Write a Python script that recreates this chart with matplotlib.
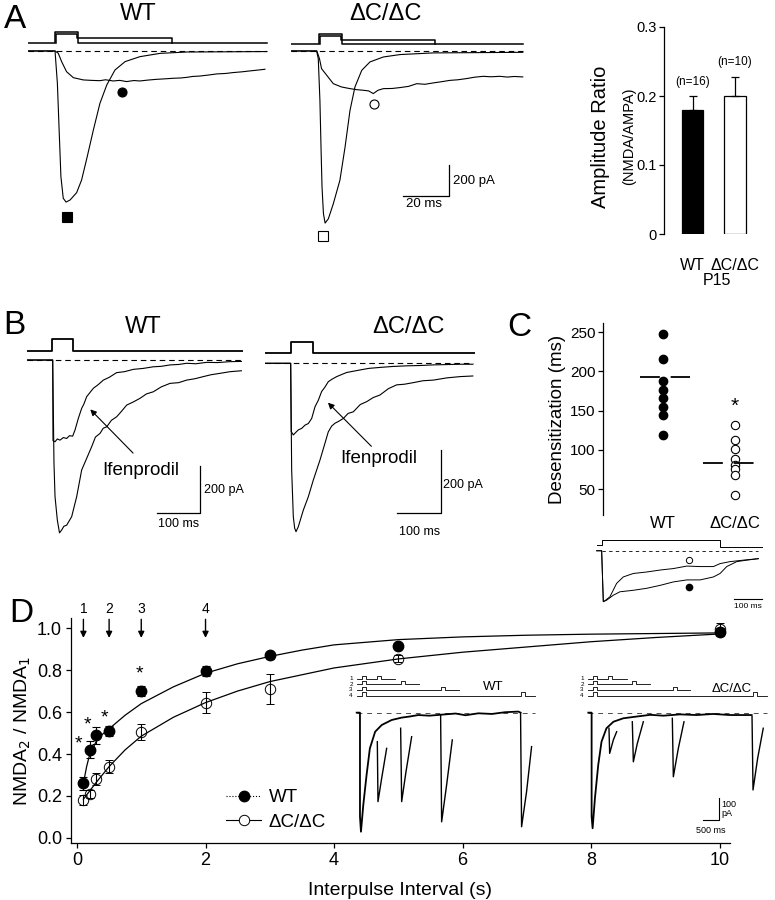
import matplotlib
matplotlib.use('Agg')
import matplotlib.pyplot as plt
from matplotlib.lines import Line2D

plt.rcParams['font.family'] = ['Liberation Sans', 'DejaVu Sans']
plt.rcParams['axes.linewidth'] = 0.9

# ---------------- data ----------------
# A: AMPA / NMDA currents (ms, pA)
a_wt_ampa_t = [0, 11.5, 12.5, 13.3, 14.0, 15.0, 16.2, 17.9, 20.7, 22.8, 25.2, 27.8, 30.6, 33.5, 37.0, 41.3, 47.6, 56.2, 67.5, 101.5]
a_wt_ampa_i = [0, 0, -216, -549, -838, -982, -1007, -993, -944, -860, -704, -527, -349, -227, -127, -71, -38, -16, -7, -4]
a_wt_nmda_t = [0, 11.5, 12.9, 14.3, 16.4, 19.3, 23.5, 27, 30.6, 33, 36.3, 39, 42.0, 45, 47.6, 51, 54.7, 58, 61.8, 65, 67.5, 70,
               73.2, 77, 80.3, 84, 87.3, 91, 94.4, 98, 100.8]
a_wt_nmda_i = [0, 0, -16, -71, -138, -178, -193, -196, -198, -192, -200, -196, -204, -197, -200, -194, -189, -186, -182, -180,
               -176, -170, -167, -160, -153, -150, -144, -139, -133, -127, -122]
a_ko_ampa_t = [0, 10.9, 11.6, 12.3, 12.8, 13.2, 13.8, 14.5, 15.9, 18.0, 20.8, 23.0, 25.1, 27.2, 30.1, 33.6, 39.3, 46.4, 60.5, 98.6]
a_ko_ampa_i = [0, 0, -51, -329, -662, -907, -1084, -1147, -1118, -1018, -862, -640, -396, -240, -129, -73, -40, -24, -13, -9]
a_ko_nmda_t = [0, 11.0, 12.1, 13.0, 15.2, 18.0, 21.5, 25.1, 28, 30.8, 33, 35.0, 37, 39.3, 43, 46.4, 50, 53.5, 57, 60.5, 64,
               67.6, 71, 74.7, 78, 81.8, 85, 88.9, 92, 95, 98.6]
a_ko_nmda_i = [0, 0, -51, -118, -162, -218, -240, -251, -258, -262, -266, -284, -262, -251, -250, -244, -236, -218, -222, -213,
               -205, -196, -192, -184, -175, -169, -172, -169, -174, -170, -173]
a_wt_stim1_t = [0, 11.5, 11.5, 21.4, 21.4, 101.5]
a_wt_stim1_i = [51, 51, 129, 129, 51, 51]
a_wt_stim2_t = [11.9, 11.9, 21.0, 21.0, 61.4, 61.4]
a_wt_stim2_i = [51, 111, 111, 84, 84, 51]
a_ko_stim1_t = [0, 11.9, 11.9, 21.6, 21.6, 98.6]
a_ko_stim1_i = [49, 49, 116, 116, 49, 49]
a_ko_stim2_t = [12.3, 12.3, 21.2, 21.2, 61.3, 61.3]
a_ko_stim2_i = [49, 98, 98, 71, 71, 49]
a_wt_marks = {'ampa': (16.4, -1109), 'nmda': (40.0, -271)}
a_ko_marks = {'ampa': (13.8, -1231), 'nmda': (35.5, -353)}

# A: amplitude ratio bars
bar_groups = ['WT', '\u0394C/\u0394C']
amp_ratio = [0.18, 0.20]
amp_err = [0.02, 0.028]
amp_n = ['(n=16)', '(n=10)']

# B: ifenprodil traces (ms, pA)
b_wt_stim_t = [0, 58.5, 58.5, 107, 107, 498]
b_wt_stim_i = [40, 40, 88.5, 88.5, 40, 40]
b_wt_ifen_t = [0, 59.3, 60, 64.7, 70, 76.2, 84, 91.6, 98, 105.4, 110.8, 118.5, 126.2, 131, 137.8, 145, 153.2, 164,
               176.3, 190, 207, 225, 245.5, 268, 291.7, 310, 330.2, 350, 368.7, 390, 414.9, 440, 468.7, 495]
b_wt_ifen_i = [0, 0, -345, -350, -338, -343, -332, -336, -324, -326, -300, -250, -207, -190, -157, -140, -121, -106,
               -86, -74, -54, -50, -40, -36, -29, -27, -21, -19, -14, -16, -10, -11, -7, -6]
b_wt_ctrl_t = [0, 59.3, 62.3, 64.7, 70, 75, 80, 85, 91.6, 97, 103.1, 114.7, 126.2, 137.8, 149.3, 158, 168.6, 176,
               184, 195, 207, 218, 230.1, 245, 260.9, 276, 291.7, 310, 330.2, 350, 368.7, 388, 407.2, 425, 445.7, 468.7, 495]
b_wt_ctrl_i = [0, 0, -443, -585, -685, -740, -728, -712, -707, -690, -671, -585, -471, -421, -371, -330, -314, -292,
               -286, -258, -243, -220, -193, -180, -164, -145, -136, -115, -100, -97, -86, -80, -71, -63, -57, -50, -46]
b_ko_stim_t = [0, 59.3, 59.3, 110, 110, 485]
b_ko_stim_i = [33.7, 33.7, 68.4, 68.4, 33.7, 33.7]
b_ko_ifen_t = [0, 59.3, 60.5, 65.4, 71, 77, 85, 92.4, 100, 107.8, 115.5, 123, 130.8, 138, 146.2, 155, 165.5, 176,
               188.6, 204, 219.4, 240, 265.5, 295, 327.1, 358, 388.7, 420, 450.3, 480]
b_ko_ifen_i = [0, 0, -215, -226, -218, -210, -205, -195, -190, -174, -137, -117, -89, -76, -58, -50, -42, -36, -29,
               -25, -21, -16, -13, -10, -8, -7, -5, -4, -3, -3]
b_ko_ctrl_t = [0, 59.3, 61.6, 65.4, 68.5, 71.6, 77, 88.5, 100, 111.6, 127, 138.5, 146.2, 154, 161.6, 170, 180.9, 192,
               204, 220, 234.8, 250, 265.5, 285, 304, 322, 342.5, 365, 388.7, 420, 450.3, 480]
b_ko_ctrl_i = [0, 0, -337, -484, -520, -531, -515, -463, -421, -368, -305, -252, -216, -198, -189, -183, -174, -158,
               -153, -130, -121, -108, -100, -80, -68, -66, -61, -55, -53, -46, -42, -40]

# C: desensitization (ms)
c_groups = ['WT', '\u0394C/\u0394C']
wt_desens = [248, 216, 187, 176, 166, 154, 144, 119]
ko_desens = [131, 113, 101, 88, 81, 75, 68, 43]
wt_desens_mean = 193
ko_desens_mean = 83
# C inset (ms, normalised current)
c_stim_t = [0, 18, 18, 445, 445, 595]
c_stim_i = [0.115, 0.115, 0.216, 0.216, 0.068, 0.068]
c_ko_t = [0, 18, 24, 30, 48, 72, 96, 132, 180, 229, 277, 325, 373, 421, 445, 481, 529, 583]
c_ko_i = [0, 0, -1.03, -1.01, -0.93, -0.66, -0.53, -0.46, -0.43, -0.39, -0.36, -0.31, -0.32, -0.32, -0.26, -0.22, -0.19, -0.16]
c_wt_t = [0, 18, 24, 36, 60, 84, 132, 180, 229, 277, 325, 373, 421, 445, 469, 505, 541, 583]
c_wt_i = [0, 0, -1.03, -1.0, -0.9, -0.83, -0.8, -0.76, -0.70, -0.63, -0.59, -0.59, -0.53, -0.46, -0.32, -0.22, -0.19, -0.16]

# D: paired-pulse recovery
interval = [0.1, 0.2, 0.3, 0.5, 1.0, 2.0, 3.0, 5.0, 10.0]
wt_ratio = [0.26, 0.42, 0.49, 0.51, 0.70, 0.795, 0.87, 0.915, 0.98]
wt_err = [0.03, 0.04, 0.04, 0.025, 0.025, 0.025, 0.015, 0.015, 0.02]
ko_ratio = [0.18, 0.21, 0.28, 0.34, 0.505, 0.645, 0.71, 0.855, 0.995]
ko_err = [0.025, 0.02, 0.03, 0.03, 0.04, 0.05, 0.07, 0.015, 0.03]
wt_fit_x = [0.1, 0.15, 0.2, 0.3, 0.4, 0.5, 0.75, 1.0, 1.5, 2.0, 2.5, 3.0, 3.5, 4.0, 5.0, 6.0, 7.0, 8.0, 9.0, 10.0]
wt_fit_y = [0.26, 0.34, 0.40, 0.46, 0.495, 0.52, 0.585, 0.64, 0.72, 0.785, 0.83, 0.865, 0.895, 0.92, 0.945, 0.958,
            0.966, 0.971, 0.974, 0.977]
ko_fit_x = [0.1, 0.2, 0.3, 0.5, 0.75, 1.0, 1.5, 2.0, 2.5, 3.0, 4.0, 5.0, 6.0, 7.0, 8.0, 9.0, 10.0]
ko_fit_y = [0.185, 0.225, 0.265, 0.34, 0.42, 0.485, 0.575, 0.645, 0.70, 0.745, 0.81, 0.853, 0.885, 0.91, 0.935,
            0.955, 0.972]
star_x = [0.03, 0.17, 0.42, 0.98]
star_y = [0.45, 0.54, 0.57, 0.78]
arrow_x = [0.1, 0.5, 1.0, 2.0]
arrow_lab = ['1', '2', '3', '4']

# D insets (s, pA)
row_base = [155.5, 131, 104.7, 78.5]
pulse_h = 15.4
pulse_w = 0.12
wt_p2_on = [0.63, 1.34, 2.56, 4.98]
wt_row_end = [1.16, 1.89, 3.10, 5.40]
ko_p2_on = [0.63, 1.35, 2.58, 5.02]
ko_row_end = [1.18, 1.89, 3.10, 5.42]
wt_main_t = [0, 0.10, 0.10, 0.13, 0.2, 0.30, 0.40, 0.56, 0.76, 1.06, 1.36, 1.6, 1.87, 2.2, 2.68, 3.0, 3.3, 3.69,
             4.1, 4.5, 4.9, 4.97]
wt_main_i = [0, 0, -480, -550, -427, -288, -165, -88, -57, -34, -23, -18, -11, -14, -8, -4, -12, -3, -6, 2, 5, 0]
wt_resp_t = [[0.626, 0.646, 0.758, 0.909], [1.333, 1.364, 1.495, 1.667], [2.545, 2.576, 2.727, 2.899],
             [4.969, 5.0, 5.151, 5.303]]
wt_resp_i = [[-134, -411, -303, -165], [-72, -411, -273, -111], [-11, -504, -334, -126], [-3, -527, -365, -157]]
ko_main_t = [0.02, 0.12, 0.12, 0.15, 0.22, 0.32, 0.42, 0.57, 0.78, 1.08, 1.48, 1.9, 2.29, 2.8, 3.3, 3.8, 4.31, 4.97]
ko_main_i = [0, 0, -480, -534, -396, -242, -134, -72, -42, -26, -18, -10, -14, -8, -11, -6, -11, -11]
ko_resp_t = [[0.646, 0.667, 0.778, 0.879], [1.353, 1.384, 1.505, 1.687], [2.565, 2.596, 2.747, 2.919],
             [4.98, 5.01, 5.15, 5.32]]
ko_resp_i = [[-72, -188, -126, -88], [-42, -227, -142, -42], [-26, -296, -165, -42], [-18, -357, -211, -72]]

# ---------------- figure ----------------
W, H = 775, 900
fig = plt.figure(figsize=(W / 100, H / 100), dpi=100)


def px_axes(x0, y0, x1, y1, frame=False):
    ax = fig.add_axes([x0 / W, 1 - y1 / H, (x1 - x0) / W, (y1 - y0) / H])
    ax.patch.set_alpha(0)
    if not frame:
        ax.axis('off')
    return ax


def ftext(x, y, s, size, **kw):
    fig.text(x / W, 1 - y / H, s, fontsize=size, ha=kw.pop('ha', 'center'), va=kw.pop('va', 'center'), **kw)


LW = 0.8
DASH = (0, (5, 3.5))

# panel letters and titles
ftext(15, 19, 'A', 24)
ftext(138, 14, 'WT', 17)
ftext(385, 14, '\u0394C/\u0394C', 17)
ftext(14, 325, 'B', 24)
ftext(143, 327, 'WT', 17)
ftext(408, 327, '\u0394C/\u0394C', 17)
ftext(519, 327, 'C', 24)
ftext(21, 614, 'D', 24)

# --- A traces ---
for x0, amp_t, amp_i, nm_t, nm_i, s1t, s1i, s2t, s2i, marks, filled in [
        (28, a_wt_ampa_t, a_wt_ampa_i, a_wt_nmda_t, a_wt_nmda_i, a_wt_stim1_t, a_wt_stim1_i, a_wt_stim2_t,
         a_wt_stim2_i, a_wt_marks, True),
        (291, a_ko_ampa_t, a_ko_ampa_i, a_ko_nmda_t, a_ko_nmda_i, a_ko_stim1_t, a_ko_stim1_i, a_ko_stim2_t,
         a_ko_stim2_i, a_ko_marks, False)]:
    ax = px_axes(x0, 25, x0 + 240, 245)
    ax.set_xlim(0, 102.1)
    ax.set_ylim(-1293, 173)
    ax.plot(amp_t, amp_i, color='k', lw=LW)
    ax.plot(nm_t, nm_i, color='k', lw=LW)
    ax.plot(s1t, s1i, color='k', lw=1.1)
    ax.plot(s2t, s2i, color='k', lw=1.1)
    ax.plot([0, max(amp_t)], [0, 0], color='k', lw=0.8, linestyle=DASH)
    fc = 'k' if filled else 'white'
    ax.plot(*marks['ampa'], 's', ms=6.5, mfc=fc, mec='k', mew=0.8)
    ax.plot(*marks['nmda'], 'o', ms=6.5, mfc=fc, mec='k', mew=0.8)
    if not filled:
        ax.plot([47.5, 67.2, 67.2], [-969, -969, -760], color='k', lw=0.9)
        ax.text(69, -865, '200 pA', fontsize=9.5, ha='left', va='center')
        ax.text(56.5, -1020, '20 ms', fontsize=9.5, ha='center', va='center')

# --- A bars ---
ax = px_axes(664, 27, 770, 234, frame=True)
pos = [0, 1]
ax.bar(pos, amp_ratio, width=0.5, color=['black', 'white'], edgecolor='black', linewidth=0.9)
ax.errorbar(pos, amp_ratio, yerr=[[0, 0], amp_err], fmt='none', ecolor='k', elinewidth=0.9, capsize=3, capthick=0.9)
for p, v, e, n in zip(pos, amp_ratio, amp_err, amp_n):
    ax.text(p, v + e + 0.012, n, fontsize=8.5, ha='center', va='bottom')
ax.set_xlim(-0.67, 1.82)
ax.set_ylim(0, 0.3)
for s in ['top', 'right', 'bottom']:
    ax.spines[s].set_visible(False)
ax.set_yticks([0, 0.1, 0.2, 0.3])
ax.set_yticklabels(['0', '0.1', '0.2', '0.3'], fontsize=10.5)
ax.tick_params(axis='y', direction='out', length=3.5, width=0.9, pad=2)
ax.set_xticks(pos)
ax.set_xticklabels(bar_groups, fontsize=11.5)
ax.tick_params(axis='x', length=0, pad=17)
ax.set_xlabel('P15', fontsize=11.5, labelpad=0)
ax.text(-0.6, 0.47, 'Amplitude Ratio', transform=ax.transAxes, rotation=90, fontsize=14.5, ha='center', va='center')
ax.text(-0.33, 0.47, '(NMDA/AMPA)', transform=ax.transAxes, rotation=90, fontsize=10.5, ha='center', va='center')

# --- B traces ---
for x0, x1, tmax, ylim, st, si, it, ii, ct, ci, sb in [
        (27, 243, 498.7, (-792, 128.5), b_wt_stim_t, b_wt_stim_i, b_wt_ifen_t, b_wt_ifen_i, b_wt_ctrl_t, b_wt_ctrl_i,
         dict(bar_t=[299.4, 399.5, 399.5], bar_i=[-654, -654, -454], pa=(408, -555), ms=(350, -700),
              arr=((249.4, -407), (141.6, -203)), lab=(262, -471))),
        (265, 475, 485, (-573, 105), b_ko_stim_t, b_ko_stim_i, b_ko_ifen_t, b_ko_ifen_i, b_ko_ctrl_t, b_ko_ctrl_i,
         dict(bar_t=[304, 406.4, 406.4], bar_i=[-473, -473, -274], pa=(412, -384), ms=(358, -531),
              arr=((250.2, -268), (140.9, -118)), lab=(262, -300)))]:
    ax = px_axes(x0, 330, x1, 545)
    ax.set_xlim(0, tmax)
    ax.set_ylim(*ylim)
    ax.plot(st, si, color='k', lw=1.3)
    ax.plot([0, max(it)], [0, 0], color='k', lw=0.8, linestyle=DASH)
    ax.plot(ct, ci, color='k', lw=LW)
    ax.plot(it, ii, color='k', lw=LW)
    ax.plot(sb['bar_t'], sb['bar_i'], color='k', lw=0.9)
    ax.text(*sb['pa'], '200 pA', fontsize=9, ha='left', va='center')
    ax.text(*sb['ms'], '100 ms', fontsize=9, ha='center', va='center')
    ax.annotate('', xy=sb['arr'][1], xytext=sb['arr'][0],
                arrowprops=dict(arrowstyle='-|>', color='k', lw=0.8, mutation_scale=9))
    ax.text(*sb['lab'], 'Ifenprodil', fontsize=13.5, ha='center', va='center')

# --- C scatter ---
ax = px_axes(603, 323, 770, 515, frame=True)
ax.plot([0] * len(wt_desens), wt_desens, 'o', ms=6, mfc='k', mec='k')
ax.plot([1] * len(ko_desens), ko_desens, 'o', ms=6, mfc='white', mec='k', mew=0.8)
ax.hlines(wt_desens_mean, -0.32, 0.375, colors='k', linestyles=[(0, (11, 6))], lw=1.3)
ax.hlines(ko_desens_mean, 0.556, 1.35, colors='k', linestyles=[(0, (11, 6))], lw=1.3)
ax.text(1, max(ko_desens) + 24, '*', fontsize=15, ha='center', va='center')
ax.set_xlim(-0.83, 1.49)
ax.set_ylim(16.9, 261.5)
for s in ['top', 'right', 'bottom']:
    ax.spines[s].set_visible(False)
ax.set_yticks([50, 100, 150, 200, 250])
ax.tick_params(axis='y', direction='out', length=3.5, width=0.9, labelsize=11, pad=2)
ax.set_xticks([0, 1])
ax.set_xticklabels(c_groups, fontsize=12)
ax.tick_params(axis='x', length=0, pad=1)
ax.set_ylabel('Desensitization (ms)', fontsize=13.5, labelpad=3)

# C inset
ax = px_axes(590, 530, 765, 615)
ax.set_xlim(-24, 607)
ax.set_ylim(-1.30, 0.42)
ax.plot(c_stim_t, c_stim_i, color='k', lw=0.7)
ax.plot([18, 583], [0, 0], color='k', lw=0.6, linestyle=(0, (4, 4)))
ax.plot(c_ko_t, c_ko_i, color='k', lw=0.7)
ax.plot(c_wt_t, c_wt_i, color='k', lw=0.7)
ax.plot(333, -0.18, 'o', ms=4.5, mfc='white', mec='k', mew=0.7)
ax.plot(333, -0.74, 'o', ms=4.5, mfc='k', mec='k')
ax.plot([496, 595], [-0.97, -0.97], color='k', lw=0.8)
ax.text(545, -1.13, '100 ms', fontsize=6, ha='center', va='center')

# --- D main ---
ax = px_axes(71, 618, 730, 843, frame=True)
ax.plot(wt_fit_x, wt_fit_y, color='k', lw=0.9)
ax.plot(ko_fit_x, ko_fit_y, color='k', lw=0.9)
ax.errorbar(interval, ko_ratio, yerr=ko_err, fmt='o', ms=7.5, mfc='none', mec='k', mew=0.7, ecolor='k',
            elinewidth=0.8, capsize=3, capthick=0.8)
ax.errorbar(interval, wt_ratio, yerr=wt_err, fmt='o', ms=7.5, mfc='k', mec='k', ecolor='k',
            elinewidth=0.8, capsize=3, capthick=0.8)
for x, y in zip(star_x, star_y):
    ax.text(x, y, '*', fontsize=14, ha='center', va='center')
for x, lab in zip(arrow_x, arrow_lab):
    ax.annotate('', xy=(x, 0.94), xytext=(x, 1.055), annotation_clip=False,
                arrowprops=dict(arrowstyle='-|>', color='k', lw=1.0, mutation_scale=9))
    ax.text(x, 1.09, lab, fontsize=10, ha='center', va='center', clip_on=False)
ax.set_xlim(-0.093, 10.16)
ax.set_ylim(-0.024, 1.048)
for s in ['top', 'right']:
    ax.spines[s].set_visible(False)
ax.set_xticks([0, 2, 4, 6, 8, 10])
ax.set_yticks([0.0, 0.2, 0.4, 0.6, 0.8, 1.0])
ax.set_yticklabels(['0.0', '0.2', '0.4', '0.6', '0.8', '1.0'])
ax.tick_params(direction='out', length=3.5, width=0.9, labelsize=13, pad=3)
ax.set_xlabel('Interpulse Interval (s)', fontsize=14, labelpad=9)
ax.set_ylabel('NMDA$_2$ / NMDA$_1$', fontsize=14, labelpad=3)
handles = [Line2D([], [], color='k', lw=0.8, linestyle=':', marker='o', ms=7.5, mfc='k', mec='k'),
           Line2D([], [], color='k', lw=0.8, marker='o', ms=7.5, mfc='white', mec='k', mew=0.7)]
ax.legend(handles, ['WT', '\u0394C/\u0394C'], loc='center left', bbox_to_anchor=(0.235, 0.147), frameon=False,
          fontsize=13.5, handlelength=1.9, handletextpad=0.4, labelspacing=0.4, borderpad=0, borderaxespad=0)

# D insets
for x0, x1, xlim, p2, rend, mt, mi, rt, ri, lab, labpos in [
        (345, 545, (-0.354, 5.71), wt_p2_on, wt_row_end, wt_main_t, wt_main_i, wt_resp_t, wt_resp_i, 'WT', (4.14, 120)),
        (580, 775, (-0.232, 5.676), ko_p2_on, ko_row_end, ko_main_t, ko_main_i, ko_resp_t, ko_resp_i,
         '\u0394C/\u0394C', (4.36, 109))]:
    ax = px_axes(x0, 670, x1, 843)
    ax.set_xlim(*xlim)
    ax.set_ylim(-602, 197)
    for k, (b, on, end) in enumerate(zip(row_base, p2, rend)):
        ax.plot([0, 0.15, 0.15, 0.15 + pulse_w, 0.15 + pulse_w, on, on, on + pulse_w, on + pulse_w, end],
                [b, b, b + pulse_h, b + pulse_h, b, b, b + pulse_h, b + pulse_h, b, b], color='k', lw=0.6)
        ax.text(-0.12, b, str(k + 1), fontsize=4.5, ha='right', va='center')
    ax.plot([0, max(rend)], [0, 0], color='0.3', lw=0.7, linestyle=(0, (5, 5)))
    ax.plot(mt, mi, color='k', lw=1.3)
    for t, i in zip(rt, ri):
        ax.plot(t, i, color='k', lw=1.0)
    ax.text(*labpos, lab, fontsize=9.5, ha='center', va='center')
    if lab != 'WT':
        ax.plot([3.50, 3.99, 3.99], [-496, -496, -396], color='k', lw=0.8)
        ax.text(4.06, -445, '100\npA', fontsize=6.5, ha='left', va='center', linespacing=0.9)
        ax.text(3.74, -545, '500 ms', fontsize=6.5, ha='center', va='center')

fig.savefig('out.png', dpi=100)
